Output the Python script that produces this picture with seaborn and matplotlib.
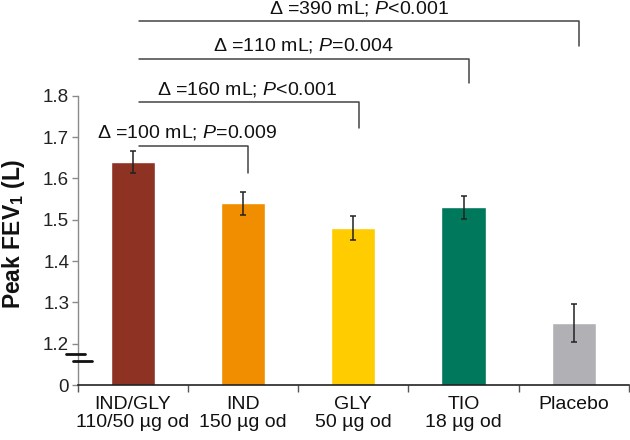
import matplotlib
matplotlib.use("Agg")
import matplotlib.pyplot as plt
import matplotlib.transforms as mtransforms
import seaborn as sns
import pandas as pd

# ---- data ----
categories = ["IND/GLY\n110/50 µg od", "IND\n150 µg od", "GLY\n50 µg od", "TIO\n18 µg od", "Placebo"]
peak_fev1 = [1.64, 1.54, 1.48, 1.53, 1.25]
errors = [0.027, 0.028, 0.029, 0.0285, 0.045]
colors = ["#8E3224", "#F08E00", "#FFCC00", "#00785C", "#B1B1B5"]
comparisons = ["Δ =100 mL; $\\it{P}$=0.009", "Δ =160 mL; $\\it{P}$<0.001",
               "Δ =110 mL; $\\it{P}$=0.004", "Δ =390 mL; $\\it{P}$<0.001"]
comp_targets = [1, 2, 3, 4]
ytick_values = [1.2, 1.3, 1.4, 1.5, 1.6, 1.7, 1.8]
ytick_labels = ["1.2", "1.3", "1.4", "1.5", "1.6", "1.7", "1.8"]

sns.set_theme(style="white")
plt.rcParams["font.family"] = ["Liberation Sans", "DejaVu Sans"]
plt.rcParams["mathtext.fontset"] = "custom"
plt.rcParams["mathtext.rm"] = "Liberation Sans"
plt.rcParams["mathtext.it"] = "Liberation Sans:italic"
plt.rcParams["mathtext.bf"] = "Liberation Sans:bold"

df = pd.DataFrame({"cat": categories, "val": peak_fev1})

fig = plt.figure(figsize=(6.3, 4.4), dpi=100)
ax = fig.add_axes([77.5 / 630, 1 - 385 / 440, 551.5 / 630, 385 / 440])

sns.barplot(data=df, x="cat", y="val", hue="cat", palette=colors, legend=False,
            width=0.4, ax=ax, saturation=1, errorbar=None)
ax.errorbar(range(len(categories)), peak_fev1, yerr=errors, fmt="none",
            ecolor="#222222", elinewidth=1.1, capsize=2.2, capthick=1.1, zorder=5)

y0 = 1.1  # axis-break position representing 0
ax.set_ylim(y0, 2.032)
ax.set_xlim(-0.5, len(categories) - 0.5)

# spines
for s in ["top", "right"]:
    ax.spines[s].set_visible(False)
ax.spines["left"].set_bounds(y0, 1.8)
ax.spines["left"].set_color("#8a8a8a")
ax.spines["left"].set_linewidth(1.0)
ax.spines["bottom"].set_color("#222222")
ax.spines["bottom"].set_linewidth(1.2)

# y ticks
ax.set_yticks([y0] + ytick_values)
ax.set_yticklabels(["0"] + ytick_labels, fontsize=13.5, color="#222222")
ax.tick_params(axis="y", which="major", direction="out", length=4, width=1,
               color="#8a8a8a", pad=2, left=True)

# x ticks: boundaries as major ticks, labels on minor ticks
ax.set_xticks([i - 0.5 for i in range(len(categories) + 1)])
ax.set_xticklabels([])
ax.set_xticks(range(len(categories)), minor=True)
ax.set_xticklabels(categories, minor=True, fontsize=14, color="#111111", linespacing=1.1)
ax.tick_params(axis="x", which="major", direction="out", length=5, width=1, color="#555555", bottom=True)
ax.tick_params(axis="x", which="minor", length=0, pad=8)
ax.set_xlabel("")

ax.set_ylabel("Peak FEV$_\\mathbf{1}$ (L)", fontsize=16.5, fontweight="bold", color="#111111")
ax.yaxis.set_label_coords(-0.092, 0.392)

# axis break marks
trans = mtransforms.blended_transform_factory(ax.transAxes, ax.transData)
ax.plot([-0.021, 0.0136], [1.1746, 1.1746], transform=trans, color="#111111", lw=2, clip_on=False, zorder=6)
ax.plot([-0.0087, 0.026], [1.158, 1.158], transform=trans, color="#111111", lw=2, clip_on=False, zorder=6)

# comparison brackets
bar_levels = [1.679, 1.784, 1.889, 1.980]
drop_levels = [1.614, 1.721, 1.832, 1.921]
text_levels = [1.711, 1.816, 1.921, 2.011]
text_x = [0.49, 1.04, 1.55, 2.05]
for lab, tgt, yb, yd, yt, xt in zip(comparisons, comp_targets, bar_levels, drop_levels, text_levels, text_x):
    ax.plot([0.058, tgt + 0.05, tgt + 0.05], [yb, yb, yd], color="#444444", lw=1.1, clip_on=False)
    ax.text(xt, yt, lab, ha="center", va="center", fontsize=14, color="#111111")

fig.savefig("out.png", dpi=100)
